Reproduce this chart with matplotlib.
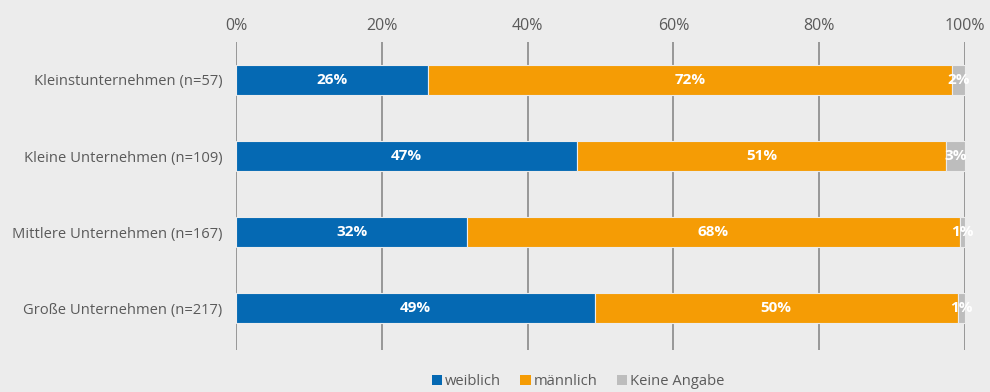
import matplotlib.pyplot as plt
from matplotlib.patches import Patch

categories = [
    "Kleinstunternehmen (n=57)",
    "Kleine Unternehmen (n=109)",
    "Mittlere Unternehmen (n=167)",
    "Große Unternehmen (n=217)",
]
weiblich = [26.3, 46.8, 31.7, 49.2]
maennlich = [71.9, 50.6, 67.6, 49.8]
keine_angabe = [1.8, 2.6, 0.7, 1.0]
series_names = ["weiblich", "männlich", "Keine Angabe"]
colors = ["#0569b3", "#f59c05", "#bdbdbd"]
xticks = [0, 20, 40, 60, 80, 100]

plt.rcParams["font.family"] = ["Open Sans", "DejaVu Sans"]
bg = "#ececec"
textcol = "#5a5a5a"

fig = plt.figure(figsize=(9.9, 3.92), dpi=100, facecolor=bg)
ax = fig.add_axes([0.2384, 0.107, 0.7364, 0.786], facecolor=bg)

y = list(range(len(categories)))
left = [0] * len(categories)
for vals, col in zip([weiblich, maennlich, keine_angabe], colors):
    ax.barh(y, vals, left=left, height=0.4, color=col, edgecolor=bg,
            linewidth=0.8, zorder=3)
    for yi, l, v in zip(y, left, vals):
        ax.text(l + v / 2, yi, f"{round(v)}%", ha="center", va="center",
                color="white", fontsize=11, fontweight="bold", zorder=4)
    left = [l + v for l, v in zip(left, vals)]

ax.set_xlim(0, 100)
ax.set_ylim(3.55, -0.5)
ax.set_xticks(xticks)
ax.set_xticklabels([f"{t}%" for t in xticks], color=textcol, fontsize=11.5)
ax.xaxis.tick_top()
ax.tick_params(axis="x", length=0, pad=6)
ax.set_yticks(y)
ax.set_yticklabels(categories, color=textcol, fontsize=10.6)
ax.tick_params(axis="y", length=0, pad=10)
ax.grid(axis="x", color="#808080", linewidth=1.1, zorder=0)
for s in ax.spines.values():
    s.set_visible(False)

handles = [Patch(facecolor=c, edgecolor="none") for c in colors]
fig.legend(handles, series_names, loc="center", bbox_to_anchor=(0.584, 0.027),
           ncol=3, frameon=False, fontsize=10.6, labelcolor=textcol,
           handlelength=0.7, handleheight=0.7, handletextpad=0.2,
           columnspacing=1.3)

fig.savefig("out.png", dpi=100, facecolor=bg)
